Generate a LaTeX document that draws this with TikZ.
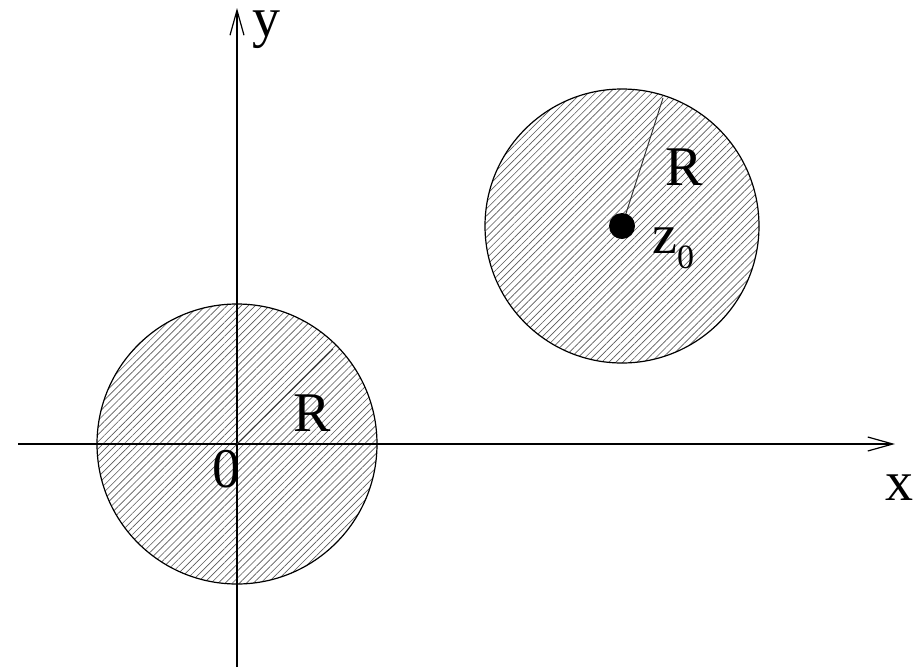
\documentclass[tikz,border=0pt]{standalone}
\usepackage{fontspec}
\setmainfont{Liberation Serif}
\usetikzlibrary{arrows.meta,patterns.meta}
\begin{document}
\begin{tikzpicture}[x=1pt,y=-1pt,
  disc/.style={circle,draw=black,line width=1.2pt,inner sep=0pt,outer sep=0pt,
    minimum size=#1,
    pattern={Lines[angle=45,distance=5pt,line width=0.65pt]},pattern color=black!65},
  axis/.style={line width=1.4pt,-{Straight Barb[length=25pt,width=14pt,line width=1.2pt]}},
  radius/.style={line width=1pt,draw=black!80},
  lab/.style={inner sep=0pt,anchor=base west,font=\fontsize{56}{60}\selectfont},
  sublab/.style={inner sep=0pt,anchor=base west,font=\fontsize{34}{36}\selectfont}]
\useasboundingbox (0,0) rectangle (924,667);
\node[disc=280pt] (c1) at (237,444) {};
\node[disc=274pt] (c2) at (622,226) {};
\coordinate (xs) at (18,444);
\coordinate (xe) at (895,444);
\coordinate (ys) at (237,667);
\coordinate (ye) at (237,8);
\draw[axis] (xs) -- (xe);
\draw[axis] (ys) -- (ye);
\coordinate (r1) at (333,349);
\coordinate (r2) at (663,98);
\draw[radius] (c1.center) -- (r1);
\draw[radius] (c2.center) -- (r2);
\node[circle,fill=black,inner sep=0pt,minimum size=26pt] (z0) at (c2.center) {};
\node[lab] (ly) at (252,36) {y};
\node[lab] (lx) at (885,500) {x};
\node[lab] (lR1) at (293,431) {R};
\node[lab] (l0) at (212,487) {0};
\node[lab] (lR2) at (665,185) {R};
\node[lab] (lz) at (652,253) {z};
\node[sublab] (lzs) at (677,268) {0};
\end{tikzpicture}
\end{document}
